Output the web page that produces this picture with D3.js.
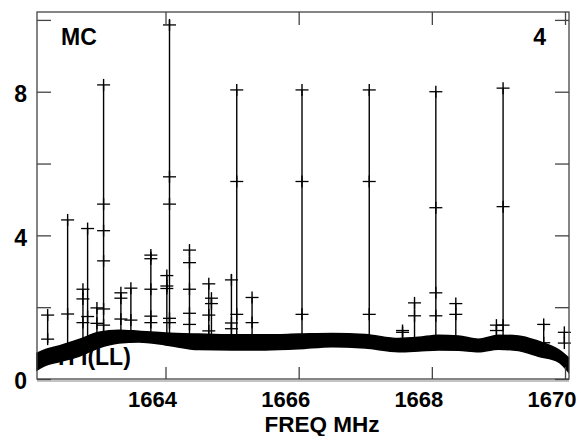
<!DOCTYPE html>
<html><head><meta charset="utf-8">
<script src="https://cdn.jsdelivr.net/npm/d3@7"></script>
<style>html,body{margin:0;padding:0;background:#fff}svg{display:block}</style>
</head><body>
<svg id="c" width="578" height="436"></svg>
<script>
// ---- data ----
const xTicks = [1664, 1666, 1668, 1670];
const yTicks = [0, 2, 4, 6, 8, 10];
const yTickLabels = ["0", "", "4", "", "8", ""];

const bandFreq = [1662.07, 1662.2, 1662.4, 1662.7, 1663.0, 1663.3, 1663.6, 1664.0, 1664.5, 1665.0, 1665.5, 1666.0, 1666.5, 1667.0, 1667.5, 1667.8, 1668.1, 1668.4, 1668.7, 1669.0, 1669.3, 1669.6, 1669.9, 1670.05];
const bandHigh = [0.72, 0.82, 0.92, 1.1, 1.3, 1.36, 1.33, 1.28, 1.25, 1.23, 1.23, 1.25, 1.27, 1.24, 1.13, 1.16, 1.22, 1.2, 1.11, 1.22, 1.2, 1.05, 0.82, 0.6];
const bandLow  = [0.25, 0.38, 0.48, 0.63, 0.87, 1.0, 1.03, 0.95, 0.82, 0.81, 0.81, 0.84, 0.9, 0.86, 0.76, 0.78, 0.81, 0.8, 0.76, 0.83, 0.79, 0.63, 0.48, 0.2];

const spikeFreq = [1662.23, 1662.53, 1662.76, 1662.83, 1662.97, 1663.07, 1663.33, 1663.48, 1663.78, 1664.06, 1664.02, 1664.36, 1664.65, 1664.69, 1664.99, 1665.07, 1665.30, 1666.05, 1667.06, 1667.56, 1667.74, 1668.06, 1668.36, 1668.97, 1669.07, 1669.68, 1669.99];
const spikeTop  = [1.78, 4.43, 2.5, 4.19, 2.0, 8.19, 2.4, 2.53, 3.55, 10.0, 2.9, 3.59, 2.65, 2.25, 2.92, 8.05, 2.27, 8.05, 8.05, 1.35, 2.12, 8.0, 2.1, 1.5, 8.1, 1.55, 1.3];
const spikeMarks = [
  [1.78, 1.11],
  [4.43, 1.81],
  [2.5, 2.23, 1.57],
  [4.19, 1.74],
  [1.98, 1.55],
  [8.19, 4.87, 4.13, 3.29, 1.95, 1.5],
  [2.4, 2.25, 1.67],
  [2.53, 1.64],
  [3.45, 3.35, 2.5, 1.75, 1.57],
  [9.86, 5.63, 4.87, 1.69, 1.57],
  [2.88, 2.59, 2.52],
  [3.59, 3.24, 2.5, 1.83, 1.52],
  [2.65, 1.78, 1.34],
  [2.25, 2.1],
  [2.76, 1.56, 1.4],
  [8.05, 5.5, 1.8],
  [2.27, 1.57],
  [8.05, 5.5, 1.8],
  [8.05, 5.5, 1.8],
  [1.35, 1.3],
  [2.12, 1.76],
  [8.0, 4.77, 2.4, 1.76],
  [2.1, 1.8],
  [1.5, 1.35],
  [8.1, 4.8, 1.5],
  [1.52, 1.01],
  [1.3, 1.0]
];

const titleLeft = "MC";
const titleRight = "4";
const seriesLabel = "H I(LL)";
const xLabel = "FREQ MHz";

// ---- drawing ----
const svg = d3.select("#c");
const font = "'Liberation Sans', Arial, Helvetica, sans-serif";
const x = d3.scaleLinear().domain([1662.07, 1670.06]).range([37, 569]);
const y = d3.scaleLinear().domain([0, 10.22]).range([379, 12]);
const axisCol = "#444";

// series label (drawn under the band)
svg.append("text").attr("x", 58).attr("y", 365)
  .attr("font-family", font).attr("font-weight", "bold").attr("font-size", 23)
  .attr("fill", "#000").text(seriesLabel);

// spikes
const spikeG = svg.append("g");
spikeFreq.forEach((f, i) => {
  spikeG.append("line")
    .attr("x1", x(f)).attr("x2", x(f))
    .attr("y1", y(1.0)).attr("y2", y(spikeTop[i]))
    .attr("stroke", "#000").attr("stroke-width", 1.4);
  spikeMarks[i].forEach(v => {
    spikeG.append("line").attr("x1", x(f) - 6.5).attr("x2", x(f) + 6.5)
      .attr("y1", y(v)).attr("y2", y(v)).attr("stroke", "#000").attr("stroke-width", 1.3);
    spikeG.append("line").attr("x1", x(f)).attr("x2", x(f))
      .attr("y1", y(v) - 6).attr("y2", y(v) + 6).attr("stroke", "#000").attr("stroke-width", 1.4);
  });
});

// band
const bandData = bandFreq.map((f, i) => ({f, lo: bandLow[i], hi: bandHigh[i]}));
svg.append("path").datum(bandData)
  .attr("d", d3.area().x(d => x(d.f)).y0(d => y(d.lo)).y1(d => y(d.hi)).curve(d3.curveMonotoneX))
  .attr("fill", "#000").attr("stroke", "#000").attr("stroke-width", 1.5);

// axes (inward ticks)
const axLeft = svg.append("g").attr("transform", "translate(37,0)")
  .call(d3.axisLeft(y).tickValues(yTicks).tickSize(-14).tickPadding(10)
    .tickFormat((d, i) => yTickLabels[i]));
axLeft.selectAll("text").attr("dy", "0.43em");
const axRight = svg.append("g").attr("transform", "translate(569,0)")
  .call(d3.axisRight(y).tickValues(yTicks).tickSize(-14).tickFormat(""));
const axBottom = svg.append("g").attr("transform", "translate(0,379)")
  .call(d3.axisBottom(x).tickValues(xTicks).tickSize(-12).tickFormat(d3.format("d")));
const axTop = svg.append("g").attr("transform", "translate(0,12)")
  .call(d3.axisTop(x).tickValues(xTicks).tickSize(-13).tickFormat(""));

[axLeft, axRight, axBottom, axTop].forEach(g => {
  g.select(".domain").remove();
  g.selectAll("line").attr("stroke", axisCol).attr("stroke-width", 1.3);
  g.selectAll("text").attr("font-family", font).attr("font-weight", "bold")
    .attr("font-size", 23).attr("fill", "#000");
});
axBottom.selectAll("text").attr("text-anchor", "end").attr("x", 11).attr("y", 27.5)
  .attr("dy", 0).attr("font-size", 22);

// frame
svg.append("rect").attr("x", 37).attr("y", 12).attr("width", 532).attr("height", 367)
  .attr("fill", "none").attr("stroke", axisCol).attr("stroke-width", 1.3);
svg.append("line").attr("x1", 37).attr("x2", 569).attr("y1", 381).attr("y2", 381)
  .attr("stroke", "#888").attr("stroke-width", 1);

// titles
svg.append("text").attr("x", 61).attr("y", 45)
  .attr("font-family", font).attr("font-weight", "bold").attr("font-size", 23).text(titleLeft);
svg.append("text").attr("x", 546).attr("y", 45).attr("text-anchor", "end")
  .attr("font-family", font).attr("font-weight", "bold").attr("font-size", 23).text(titleRight);
svg.append("text").attr("x", 322).attr("y", 432).attr("text-anchor", "middle")
  .attr("font-family", font).attr("font-weight", "bold").attr("font-size", 22.5).text(xLabel);
</script>
</body></html>
